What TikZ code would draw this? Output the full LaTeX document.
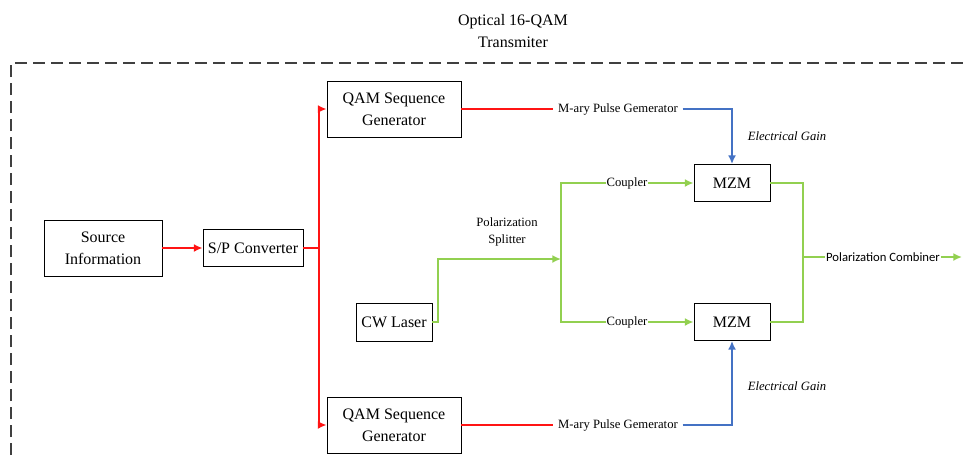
\documentclass[tikz,border=0pt]{standalone}
\usepackage{fontspec}
\setmainfont{Liberation Serif}
\newfontfamily\labelsans{Carlito}
\usetikzlibrary{arrows.meta}
\definecolor{sigred}{RGB}{255,20,20}
\definecolor{optgreen}{RGB}{146,208,80}
\definecolor{elecblue}{RGB}{68,114,196}
\colorlet{framegray}{black!75}

\begin{document}
\begin{tikzpicture}[x=0.75pt,y=-0.75pt,
        block/.style={draw,line width=0.7pt,align=center,font=\fontsize{12}{16.5}\selectfont,inner sep=1pt},
        tag/.style={font=\fontsize{9.5}{13}\selectfont,inner sep=3.5pt},
        redline/.style={sigred,line width=1.8pt},
        greenline/.style={optgreen,line width=1.8pt},
        blueline/.style={elecblue,line width=1.8pt},
        tip/.style={-{Latex[length=6.5pt,width=6pt]}}]
        \useasboundingbox (0,0) rectangle (968,455);
        % frame and title
        \draw[framegray,line width=1.1pt,dash pattern=on 9pt off 4.5pt](11,455)--(11,63)--(968,63);
        \node[align=center,font=\fontsize{12}{17}\selectfont](title) at (513,31) {Optical 16-QAM\\Transmiter};
        % blocks
        \node[block,minimum width=88.5pt,minimum height=42pt](src) at (103,248) {Source\\Information};
        \node[block,minimum width=75pt,minimum height=27.75pt](sp) at (253,248) {S/P Converter};
        \node[block,minimum width=100.5pt,minimum height=42pt](qamA) at (394,109) {QAM Sequence\\Generator};
        \node[block,minimum width=100.5pt,minimum height=42pt](qamB) at (394,425) {QAM Sequence\\Generator};
        \node[block,minimum width=57pt,minimum height=28.5pt](cw) at (394,322) {CW Laser};
        \node[block,minimum width=57pt,minimum height=27.75pt](mzmA) at (732,183) {MZM};
        \node[block,minimum width=57pt,minimum height=27.75pt](mzmB) at (732,322) {MZM};
        % labels on the lines
        \node[tag](pgA) at (618,109) {M-ary Pulse Gemerator};
        \node[tag](pgB) at (618,425) {M-ary Pulse Gemerator};
        \node[tag,inner sep=0.5pt](cpA) at (627,183) {Coupler};
        \node[tag,inner sep=0.5pt](cpB) at (627,322) {Coupler};
        \node[tag,align=center,font=\fontsize{9.5}{12.75}\selectfont](spl) at (507,232) {Polarization\\Splitter};
        \node[tag,inner sep=0.5pt,font=\labelsans\fontsize{9.5}{12}\selectfont](comb) at (883,257) {Polarization Combiner};
        \node[tag,font=\itshape\fontsize{9.5}{12}\selectfont](gainA) at (787,136) {Electrical Gain};
        \node[tag,font=\itshape\fontsize{9.5}{12}\selectfont](gainB) at (787,386) {Electrical Gain};
        \coordinate(bus) at (319,248);
        \coordinate(cwbend) at (438,322);
        \coordinate(split) at (561,259);
        \coordinate(splitA) at (561,183);
        \coordinate(splitB) at (561,322);
        \coordinate(joinA) at (803,183);
        \coordinate(joinB) at (803,322);
        \coordinate(join) at (803,257);
        \coordinate(out) at (962,257);
        % electrical side
        \draw[redline,tip](src)--(sp);
        \draw[redline](sp.east)--(bus);
        \draw[redline,tip](bus)|-(qamA.west);
        \draw[redline,tip](bus)|-(qamB.west);
        \draw[redline](qamA)--(pgA);
        \draw[redline](qamB)--(pgB);
        \draw[blueline,tip](pgA)-|(mzmA);
        \draw[blueline,tip](pgB)-|(mzmB);
        % optical side
        \draw[greenline,tip](cw.east)--(cwbend)|-(split);
        \draw[greenline](cpA)-|(splitA)--(splitB)--(cpB);
        \draw[greenline,tip](cpA)--(mzmA);
        \draw[greenline,tip](cpB)--(mzmB);
        \draw[greenline](mzmA.east)--(joinA)--(joinB)--(mzmB.east);
        \draw[greenline](join)--(comb);
        \draw[greenline,tip](comb)--(out);
    \end{tikzpicture}
\end{document}
